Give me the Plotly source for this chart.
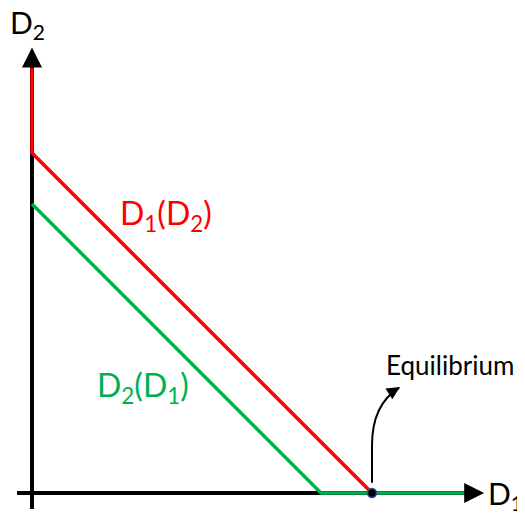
import plotly.graph_objects as go

# Data (in abstract units)
red_x = [0, 0, 10]
red_y = [12.5, 10, 0]
green_x = [0, 8.5, 13.0]
green_y = [8.5, 0, 0]
xaxis_x = [-0.44, 13.0]
xaxis_y = [0, 0]
yaxis_x = [0, 0]
yaxis_y = [-0.47, 12.7]
x_tip = 13.3
y_tip = 13.1
eq_x, eq_y = 10, 0
red_label = "D<sub>1</sub>(D<sub>2</sub>)"
green_label = "D<sub>2</sub>(D<sub>1</sub>)"

RED = "#FF0000"
GREEN = "#00B050"
FONT = "Lato"

fig = go.Figure()
fig.add_trace(go.Scatter(x=xaxis_x, y=xaxis_y, mode="lines", line=dict(color="black", width=4), hoverinfo="skip"))
fig.add_trace(go.Scatter(x=yaxis_x, y=yaxis_y, mode="lines", line=dict(color="black", width=4), hoverinfo="skip"))
fig.add_trace(go.Scatter(x=red_x, y=red_y, mode="lines", line=dict(color=RED, width=3.5), hoverinfo="skip"))
fig.add_trace(go.Scatter(x=green_x, y=green_y, mode="lines", line=dict(color=GREEN, width=3.5), hoverinfo="skip"))
fig.add_trace(go.Scatter(x=[eq_x], y=[eq_y], mode="markers",
                         marker=dict(color="black", size=9, line=dict(color="#2F5597", width=1.5)), hoverinfo="skip"))

# Axis arrowheads
fig.add_annotation(x=x_tip, y=0, ax=13.0, ay=0, xref="x", yref="y", axref="x", ayref="y",
                   showarrow=True, arrowhead=2, arrowsize=1, arrowwidth=4, arrowcolor="black", text="", standoff=0)
fig.add_annotation(x=0, y=y_tip, ax=0, ay=12.7, xref="x", yref="y", axref="x", ayref="y",
                   showarrow=True, arrowhead=2, arrowsize=1, arrowwidth=4, arrowcolor="black", text="", standoff=0)

# Curved equilibrium arrow
c0 = (10, 0.3)
c1 = (10, 1.4)
cq = (10, 2.6)
c2 = (10.8, 3.1)
fig.add_shape(type="path", xref="x", yref="y",
              path=f"M {c0[0]},{c0[1]} L {c1[0]},{c1[1]} Q {cq[0]},{cq[1]} {c2[0]},{c2[1]}",
              line=dict(color="black", width=2))
fig.add_annotation(x=10.82, y=3.12, ax=10.6, ay=2.98, xref="x", yref="y", axref="x", ayref="y",
                   showarrow=True, arrowhead=2, arrowsize=1.3, arrowwidth=2, arrowcolor="black", text="", standoff=0)

# Labels
fig.add_annotation(x=12.29, y=3.76, text="Equilibrium", showarrow=False,
                   font=dict(family=FONT, size=26, color="black"))
fig.add_annotation(x=-0.12, y=13.8, text="D<sub>2</sub>", showarrow=False,
                   font=dict(family=FONT, size=30, color="black"))
fig.add_annotation(x=13.93, y=-0.06, text="D<sub>1</sub>", showarrow=False,
                   font=dict(family=FONT, size=30, color="black"))
fig.add_annotation(x=3.94, y=8.18, text=red_label, showarrow=False,
                   font=dict(family=FONT, size=32, color=RED))
fig.add_annotation(x=3.25, y=3.12, text=green_label, showarrow=False,
                   font=dict(family=FONT, size=32, color=GREEN))

fig.update_layout(
    width=517, height=506,
    margin=dict(l=0, r=0, t=0, b=0),
    paper_bgcolor="white", plot_bgcolor="white",
    showlegend=False,
    xaxis=dict(range=[-0.706, 14.5], visible=False, fixedrange=True),
    yaxis=dict(range=[-0.618, 14.265], visible=False, fixedrange=True),
)
fig.write_html("out.html")
